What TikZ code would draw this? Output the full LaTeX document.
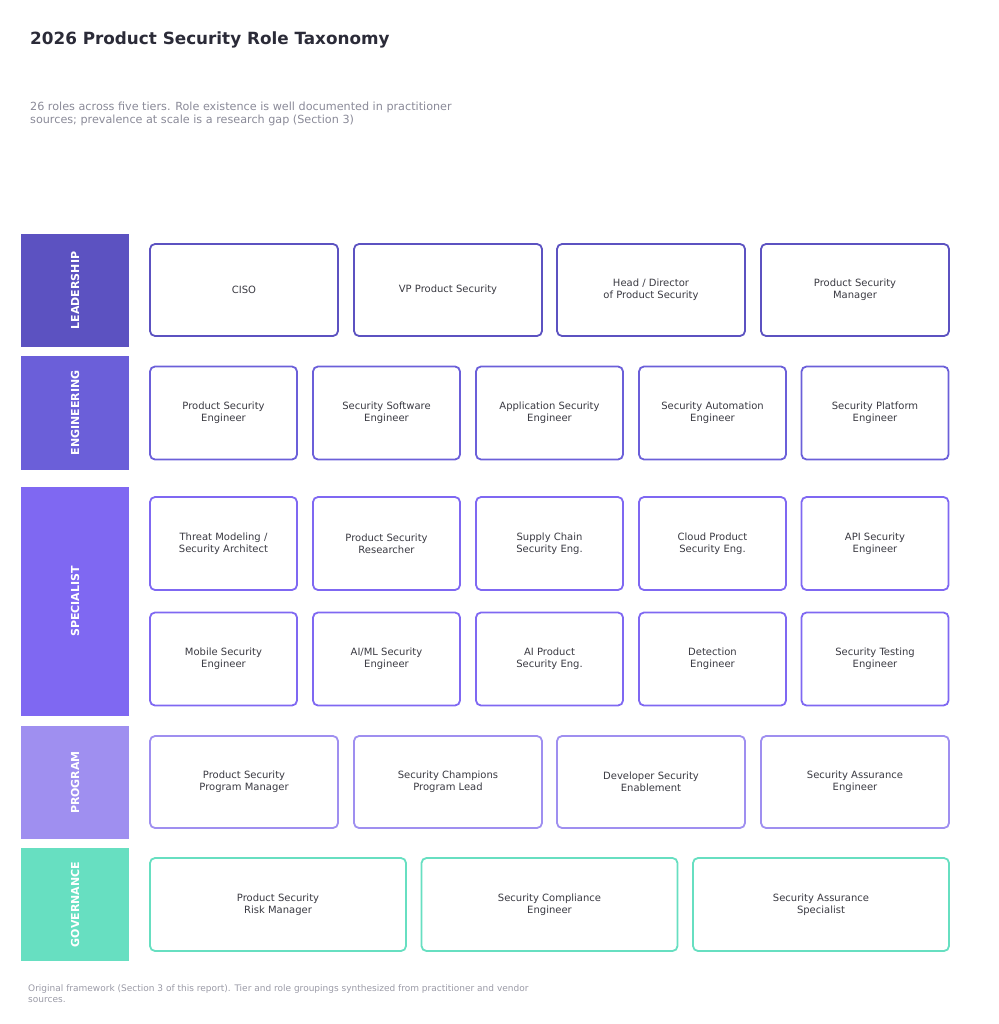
\documentclass[tikz,border=0pt]{standalone}
\usepackage{fontspec}
\setmainfont{DejaVu Sans}
\definecolor{cLead}{HTML}{5C52C1}
\definecolor{cEng}{HTML}{6B5FD9}
\definecolor{cSpec}{HTML}{7F68F2}
\definecolor{cProg}{HTML}{9F8FF0}
\definecolor{cGov}{HTML}{67DFC1}
\definecolor{cTitle}{HTML}{2B2B38}
\definecolor{cText}{HTML}{3A3A42}
\definecolor{cSub}{HTML}{8A8A98}
\definecolor{cFoot}{HTML}{9A9AA6}
\tikzset{
  tierbar/.style={rectangle, fill=#1, draw=none, inner sep=0pt},
  tierlabel/.style={rotate=90, text=white, font=\fontsize{11}{13}\selectfont\bfseries},
  role/.style={rectangle, rounded corners=5pt, draw=#1, line width=1.8pt, fill=white,
    align=center, text=cText, font=\fontsize{10}{12}\selectfont, inner sep=0pt},
  wide/.style={minimum width=188pt, minimum height=92pt},
  mid/.style={minimum width=147pt, minimum height=93pt},
  gwide/.style={minimum width=256pt, minimum height=93pt},
}
\begin{document}
\begin{tikzpicture}[x=1pt,y=-1pt]
\useasboundingbox (0,0) rectangle (998,1024);
% title
\node[anchor=base west, inner sep=0pt, text=cTitle, font=\fontsize{16.8}{20}\selectfont\bfseries] (title) at (30,44.5) {2026 Product Security Role Taxonomy};
\node[anchor=north west, inner sep=0pt, align=left, text=cSub, font=\fontsize{11.2}{13}\selectfont] (sub) at (30,101.5) {26 roles across five tiers. Role existence is well documented in practitioner\\sources; prevalence at scale is a research gap (Section 3)};
% tier bars
\node[tierbar=cLead, minimum width=108pt, minimum height=113pt] (bLead) at (75,290.5) {};
\node[tierlabel] (tLead) at (bLead.center) {LEADERSHIP};
\node[tierbar=cEng, minimum width=108pt, minimum height=114pt] (bEng) at (75,413) {};
\node[tierlabel] (tEng) at (bEng.center) {ENGINEERING};
\node[tierbar=cSpec, minimum width=108pt, minimum height=229pt] (bSpec) at (75,601.5) {};
\node[tierlabel] (tSpec) at (bSpec.center) {SPECIALIST};
\node[tierbar=cProg, minimum width=108pt, minimum height=113pt] (bProg) at (75,782.5) {};
\node[tierlabel] (tProg) at (bProg.center) {PROGRAM};
\node[tierbar=cGov, minimum width=108pt, minimum height=113pt] (bGov) at (75,904.5) {};
\node[tierlabel] (tGov) at (bGov.center) {GOVERNANCE};
% leadership
\node[role=cLead, wide] (l1) at (244,290) {CISO};
\node[role=cLead, wide] (l2) at (448,290) {VP Product Security};
\node[role=cLead, wide] (l3) at (651,290) {Head / Director\\of Product Security};
\node[role=cLead, wide] (l4) at (855,290) {Product Security\\Manager};
% engineering
\node[role=cEng, mid] (e1) at (223.5,413) {Product Security\\Engineer};
\node[role=cEng, mid] (e2) at (386.5,413) {Security Software\\Engineer};
\node[role=cEng, mid] (e3) at (549.5,413) {Application Security\\Engineer};
\node[role=cEng, mid] (e4) at (712.5,413) {Security Automation\\Engineer};
\node[role=cEng, mid] (e5) at (875,413) {Security Platform\\Engineer};
% specialist row 1
\node[role=cSpec, mid] (s1) at (223.5,543.5) {Threat Modeling /\\Security Architect};
\node[role=cSpec, mid] (s2) at (386.5,543.5) {Product Security\\Researcher};
\node[role=cSpec, mid] (s3) at (549.5,543.5) {Supply Chain\\Security Eng.};
\node[role=cSpec, mid] (s4) at (712.5,543.5) {Cloud Product\\Security Eng.};
\node[role=cSpec, mid] (s5) at (875,543.5) {API Security\\Engineer};
% specialist row 2
\node[role=cSpec, mid] (s6) at (223.5,659) {Mobile Security\\Engineer};
\node[role=cSpec, mid] (s7) at (386.5,659) {AI/ML Security\\Engineer};
\node[role=cSpec, mid] (s8) at (549.5,659) {AI Product\\Security Eng.};
\node[role=cSpec, mid] (s9) at (712.5,659) {Detection\\Engineer};
\node[role=cSpec, mid] (s10) at (875,659) {Security Testing\\Engineer};
% program
\node[role=cProg, wide] (p1) at (244,782) {Product Security\\Program Manager};
\node[role=cProg, wide] (p2) at (448,782) {Security Champions\\Program Lead};
\node[role=cProg, wide] (p3) at (651,782) {Developer Security\\Enablement};
\node[role=cProg, wide] (p4) at (855,782) {Security Assurance\\Engineer};
% governance
\node[role=cGov, gwide] (g1) at (278,904.5) {Product Security\\Risk Manager};
\node[role=cGov, gwide] (g2) at (549.5,904.5) {Security Compliance\\Engineer};
\node[role=cGov, gwide] (g3) at (821,904.5) {Security Assurance\\Specialist};
% footer
\node[anchor=north west, inner sep=0pt, align=left, text=cFoot, font=\fontsize{9}{11}\selectfont] (foot) at (28,984.5) {Original framework (Section 3 of this report). Tier and role groupings synthesized from practitioner and vendor\\sources.};
\end{tikzpicture}
\end{document}
